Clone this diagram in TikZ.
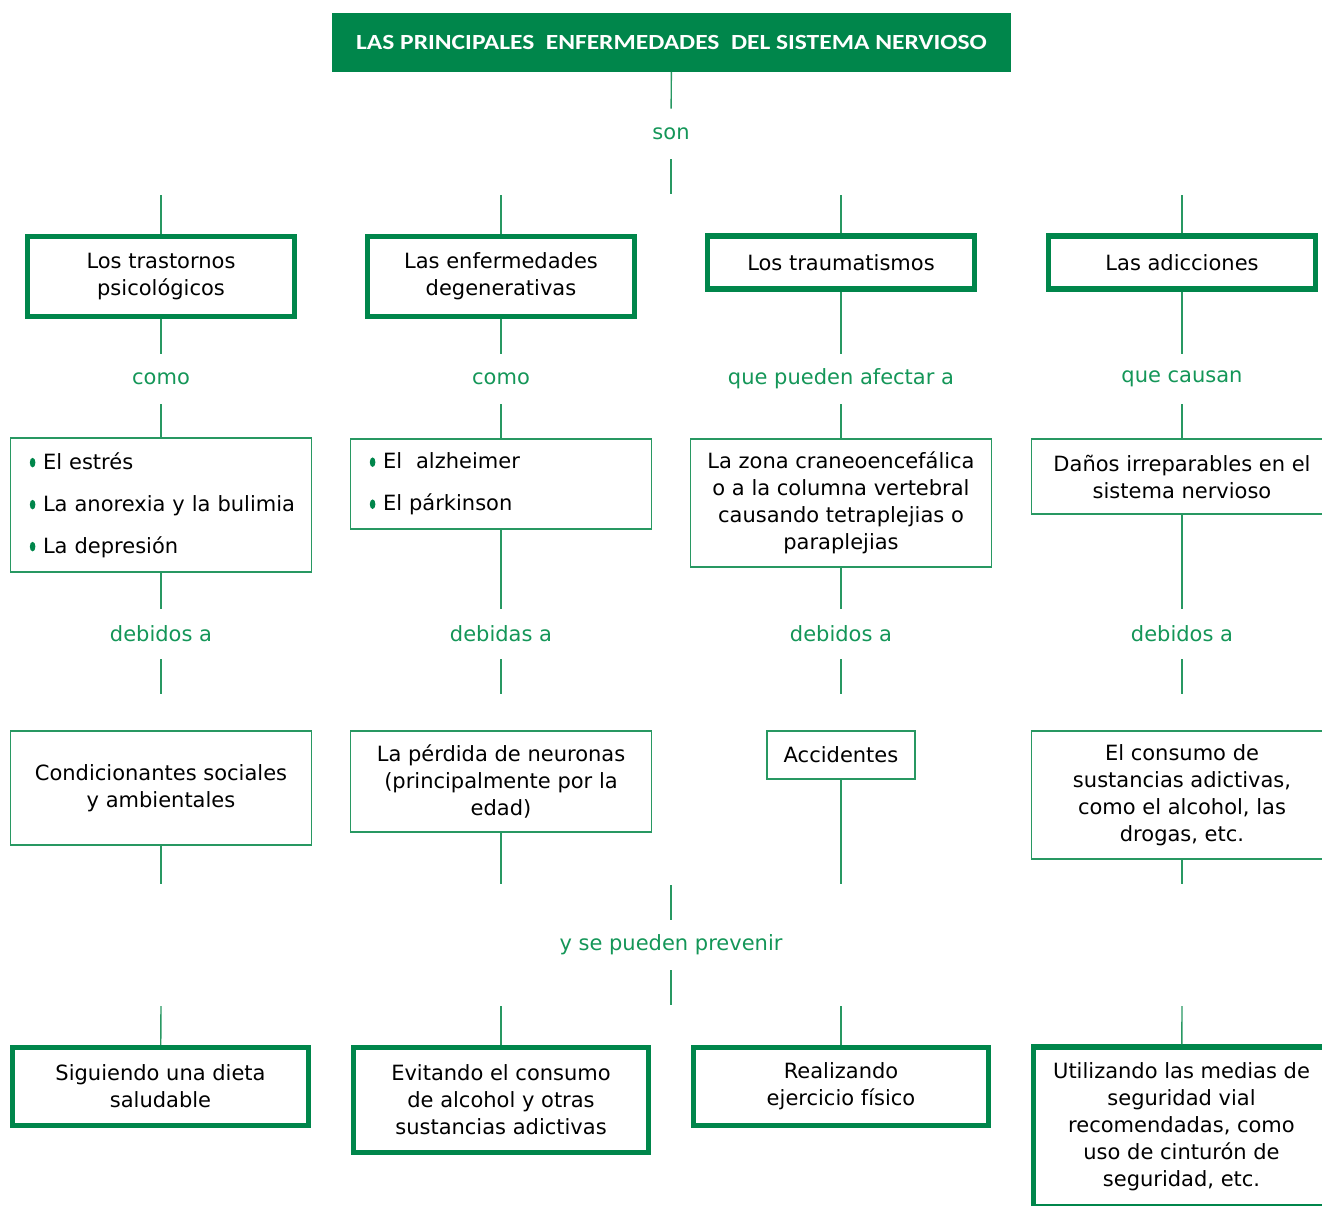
\documentclass[tikz,border=0pt]{standalone}
\usepackage{fontspec}
\setmainfont{DejaVu Sans}
\newfontfamily\titlefont[FakeStretch=1.18]{Carlito}
\definecolor{boxgreen}{RGB}{0,134,75}
\definecolor{linegreen}{RGB}{40,152,98}
\definecolor{labelgreen}{RGB}{20,150,88}
\newcommand\gbul{\tikz[baseline=0pt]{\fill[boxgreen,draw=none] (5.8pt,3.3pt) ellipse (1.4pt and 2.4pt); \path[draw=none] (0pt,0pt) (11pt,0pt);}}
\begin{document}
\begin{tikzpicture}[x=0.5pt,y=-0.5pt,
  wh/.style 2 args={minimum width=#1*0.5pt, minimum height=#2*0.5pt},
  base/.style={inner sep=0pt, align=center, text=black, font=\fontsize{10.5pt}{13.5pt}\selectfont},
  thickbox/.style={base, draw=boxgreen, line width=2.6pt},
  thinbox/.style={base, draw=linegreen, line width=0.7pt},
  lbl/.style={base, text=labelgreen, minimum height=25pt},
  conn/.style={draw=linegreen, line width=0.7pt},
  listbox/.style={thinbox, align=left, text width=140pt}
]
\useasboundingbox (0,0) rectangle (1322,1205);
\clip (0,0) rectangle (1322,1205);

% title
\node[fill=boxgreen, wh={679}{59}, inner sep=0pt, text=white,
  font={\titlefont\bfseries\fontsize{10.8pt}{12pt}\selectfont}] (title) at (671.5,42)
  {LAS PRINCIPALES\ \ ENFERMEDADES\ \ DEL SISTEMA NERVIOSO};
\node[lbl] (son) at (671,134) {son};
\coordinate (sonend) at (671,194);
\draw[conn] (title) -- (son);
\draw[conn] (son) -- (sonend);

% row 1
\node[thickbox, wh={267}{80}] (a1) at (161,276.5) {Los trastornos\\psicológicos};
\node[thickbox, wh={267}{80}] (a2) at (501,276.5) {Las enfermedades\\degenerativas};
\node[thickbox, wh={267}{53}] (a3) at (841,262.5) {Los traumatismos};
\node[thickbox, wh={267}{53}] (a4) at (1182,262.5) {Las adicciones};

\coordinate (s1) at (161,195);
\coordinate (s2) at (501,195);
\coordinate (s3) at (841,195);
\coordinate (s4) at (1182,195);

% labels row 1
\node[lbl] (l1) at (161,379) {como};
\node[lbl] (l2) at (501,379) {como};
\node[lbl] (l3) at (841,379) {que pueden afectar a};
\node[lbl] (l4) at (1182,379) {que causan};

% row 2
\node[listbox, wh={301}{134}] (b1) at (161,505)
  {\gbul El estrés\\[7.5pt]\gbul La anorexia y la bulimia\\[7.5pt]\gbul La depresión};
\node[listbox, wh={301}{90}] (b2) at (501,484)
  {\gbul El~~alzheimer\\[7.5pt]\gbul El párkinson};
\node[thinbox, wh={301}{128}] (b3) at (841,503)
  {La zona craneoencefálica\\o a la columna vertebral\\causando tetraplejias o\\paraplejias};
\node[thinbox, wh={301}{75}] (b4) at (1182,476.5)
  {Daños irreparables en el\\sistema nervioso};

% labels row 2
\node[lbl] (m1) at (161,634) {debidos a};
\node[lbl] (m2) at (501,634) {debidas a};
\node[lbl] (m3) at (841,634) {debidos a};
\node[lbl] (m4) at (1182,634) {debidos a};

\coordinate (d1) at (161,694);
\coordinate (d2) at (501,694);
\coordinate (d3) at (841,694);
\coordinate (d4) at (1182,694);

% row 3
\node[thinbox, wh={301}{114}] (c1) at (161,788) {Condicionantes sociales\\y ambientales};
\node[thinbox, wh={301}{101}] (c2) at (501,781.5) {La pérdida de neuronas\\(principalmente por la\\edad)};
\node[thinbox, wh={148}{48}] (c3) at (841,755) {Accidentes};
\node[thinbox, wh={301}{128}] (c4) at (1182,795) {El consumo de\\sustancias adictivas,\\como el alcohol, las\\drogas, etc.};

\coordinate (e1) at (161,884);
\coordinate (e2) at (501,884);
\coordinate (e3) at (841,884);
\coordinate (e4) at (1182,884);

% prevention label
\coordinate (f1) at (671,885);
\node[lbl] (prev) at (671,945) {y se pueden prevenir};
\coordinate (f2) at (671,1005);

% bottom row
\coordinate (g1) at (161,1006);
\coordinate (g2) at (501,1006);
\coordinate (g3) at (841,1006);
\coordinate (g4) at (1182,1006);

\node[thickbox, wh={296}{78}] (h1) at (160.5,1086.5) {Siguiendo una dieta\\saludable};
\node[thickbox, wh={295}{105}] (h2) at (501,1100) {Evitando el consumo\\de alcohol y otras\\sustancias adictivas};
\node[thickbox, wh={295}{78}] (h3) at (841,1086.5) {Realizando\\ejercicio físico};
\node[thickbox, wh={296}{160}] (h4) at (1181.5,1127) {Utilizando las medias de\\seguridad vial\\recomendadas, como\\uso de cinturón de\\seguridad, etc.};

% connectors
\foreach \i in {1,2,3,4} {
  \draw[conn] (s\i) -- (a\i);
  \draw[conn] (a\i) -- (l\i);
  \draw[conn] (l\i) -- (b\i);
  \draw[conn] (b\i) -- (m\i);
  \draw[conn] (m\i) -- (d\i);
  \draw[conn] (c\i) -- (e\i);
  \draw[conn] (g\i) -- (h\i);
}
\draw[conn] (f1) -- (prev);
\draw[conn] (prev) -- (f2);
\end{tikzpicture}
\end{document}
